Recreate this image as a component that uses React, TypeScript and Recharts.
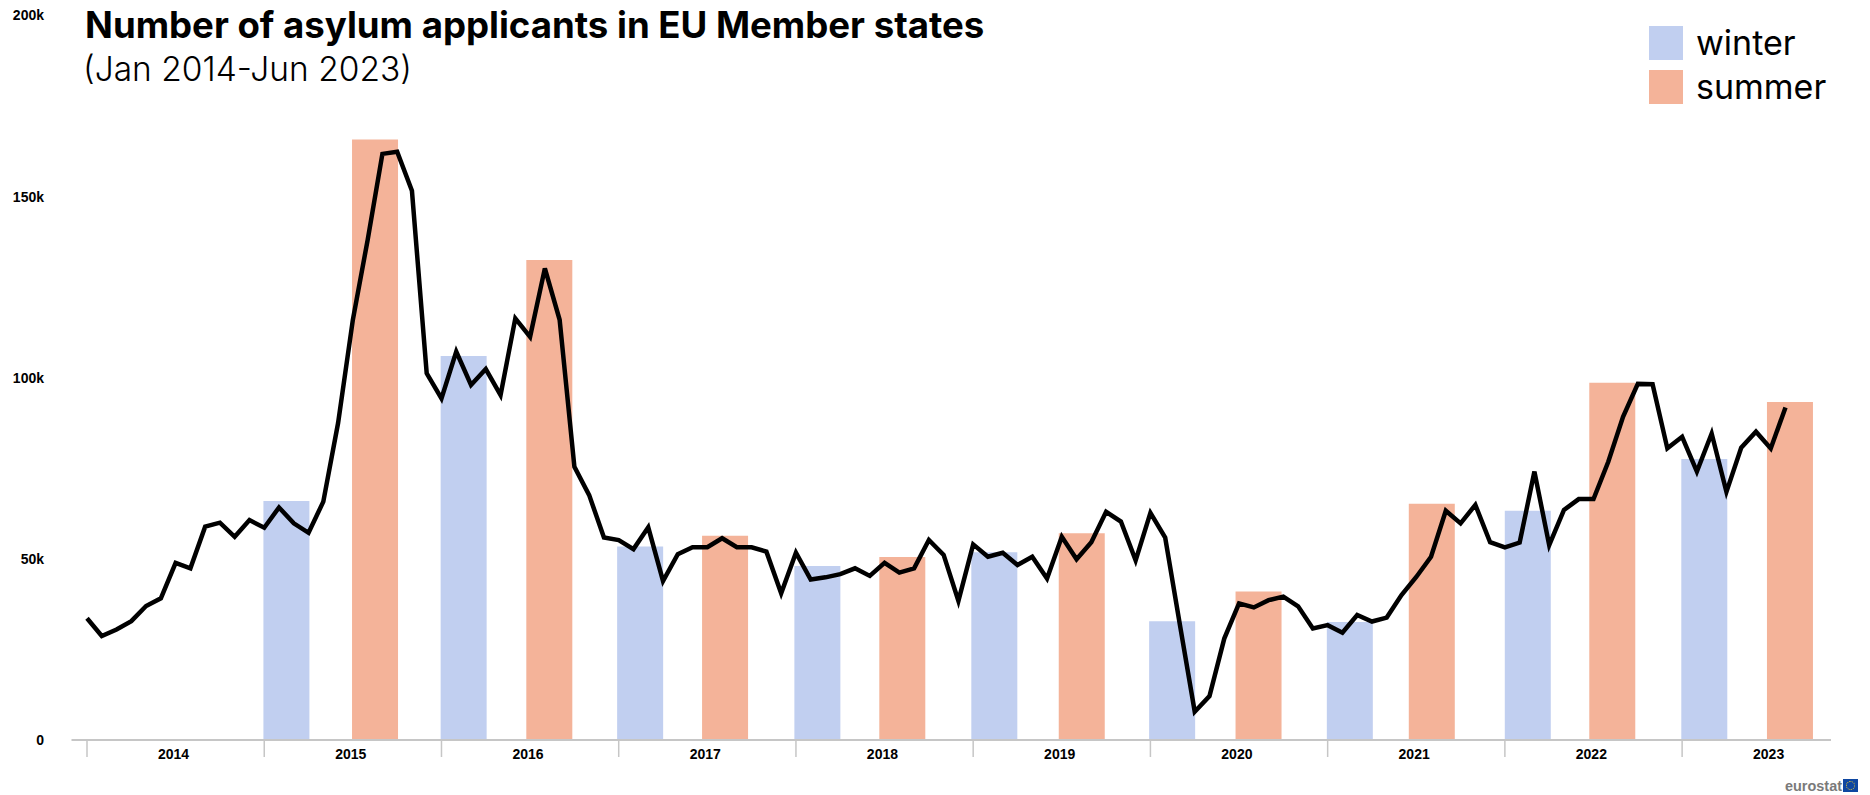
import { Bar, Cell, ComposedChart, Line, XAxis, YAxis } from "recharts";

// Monthly applicants in thousands, Jan 2014 onwards
const monthly = [
  33.6, 28.7, 30.5, 32.8, 37, 39.1, 48.9, 47.4, 58.9, 60, 56.1, 60.7,
  58.6, 64.2, 59.8, 57.2, 65.8, 87.5, 116, 138, 161.8, 162.4, 151.6, 101.2,
  94.3, 107.2, 98, 102.4, 95.2, 116.4, 111.3, 130.2, 116, 75.4, 67.6, 55.9,
  55.2, 52.7, 58.7, 43.9, 51.3, 53.2, 53.2, 55.7, 53.2, 53.2, 52, 40.5,
  51.7, 44.3, 44.9, 45.8, 47.4, 45.3, 48.9, 46.2, 47.4, 55.2, 51.1, 38.4,
  54, 50.6, 51.7, 48.3, 50.6, 44.6, 56.1, 49.9, 54.6, 63, 60.3, 49.6,
  62.7, 55.9, 31.7, 7.8, 12.1, 28, 37.7, 36.6, 38.6, 39.6, 36.9, 30.8,
  31.7, 29.6, 34.5, 32.7, 33.8, 40, 45, 50.6, 63.3, 59.8, 64.9, 54.6,
  53.2, 54.5, 74.1, 53.8, 63.5, 66.5, 66.5, 76.8, 89.2, 98.3, 98.2, 80.5,
  83.7, 74.1, 84.6, 68.5, 80.7, 85.1, 80.5, 91.8,
];

// Seasonal bars: centre on the month axis, height in thousands
const winterMonths = [13.5, 25.5, 37.45, 49.45, 61.43, 73.47, 85.5, 97.55, 109.5];
const winterValues = [66, 106, 53.4, 48, 51.8, 32.8, 32.6, 63.3, 77.6];
const summerMonths = [19.5, 31.3, 43.2, 55.2, 67.35, 79.32, 91.05, 103.27, 115.3];
const summerValues = [165.8, 132.5, 56.4, 50.5, 57.1, 41, 65.2, 98.6, 93.3];

const yearTicks = [0, 12, 24, 36, 48, 60, 72, 84, 96, 108];
const yearLabels = ["2014", "2015", "2016", "2017", "2018", "2019", "2020", "2021", "2022", "2023"];
const valueTicks = [0, 50, 100, 150, 200];

const WINTER = "#c1cff0";
const SUMMER = "#f4b399";
const AXIS = "#c6c6c6";
const TICK_FONT = "'Liberation Sans', Arial, sans-serif";
const HEAD_FONT = "Inter, sans-serif";
const MONTH_DOMAIN: [number, number] = [-1.05, 118.08];

const lineRows = monthly.map((total, month) => ({ month, total }));

const barRows = [
  ...winterMonths.map((month, i) => ({ month, value: winterValues[i], color: WINTER })),
  ...summerMonths.map((month, i) => ({ month, value: summerValues[i], color: SUMMER })),
].sort((a, b) => a.month - b.month);

const YearTick = ({ x, y, payload }: any) => (
  <text
    x={x + 86.5}
    y={y + 2}
    textAnchor="middle"
    fontFamily={TICK_FONT}
    fontWeight={700}
    fontSize={14}
    fill="#000"
  >
    {yearLabels[yearTicks.indexOf(payload.value)]}
  </text>
);

const LegendItem = ({ top, color, label }: { top: number; color: string; label: string }) => (
  <>
    <div style={{ position: "absolute", left: 1649, top, width: 34, height: 34, background: color }} />
    <div
      style={{
        position: "absolute",
        left: 1696,
        top: top - 3,
        fontFamily: HEAD_FONT,
        fontSize: 34,
        lineHeight: "40px",
        color: "#000",
      }}
    >
      {label}
    </div>
  </>
);

export default function App() {
  return (
    <div style={{ position: "fixed", left: 0, top: 0, width: 1870, height: 795, background: "#fff" }}>
      <ComposedChart
        width={1870}
        height={795}
        data={barRows}
        margin={{ top: 15.5, right: 39, bottom: 0, left: 0 }}
      >
        <XAxis
          xAxisId="months"
          dataKey="month"
          type="number"
          domain={MONTH_DOMAIN}
          ticks={yearTicks}
          height={55}
          tick={<YearTick />}
          tickSize={17}
          tickMargin={0}
          interval={0}
          axisLine={{ stroke: AXIS, strokeWidth: 2 }}
          tickLine={{ stroke: AXIS, strokeWidth: 1.5 }}
        />
        <XAxis xAxisId="seasons" dataKey="month" type="number" domain={MONTH_DOMAIN} height={0} hide />
        <YAxis
          type="number"
          domain={[0, 200]}
          ticks={valueTicks}
          width={71.5}
          axisLine={false}
          tickLine={false}
          tickSize={0}
          tickMargin={27.5}
          interval={0}
          tick={{ fontFamily: TICK_FONT, fontWeight: 700, fontSize: 14, fill: "#000" }}
          tickFormatter={(v: number) => (v === 0 ? "0" : `${v}k`)}
        />
        <Bar xAxisId="seasons" dataKey="value" barSize={46} isAnimationActive={false}>
          {barRows.map((row) => (
            <Cell key={row.month} fill={row.color} />
          ))}
        </Bar>
        <Line
          data={lineRows}
          xAxisId="months"
          dataKey="total"
          type="linear"
          stroke="#000"
          strokeWidth={4.5}
          dot={false}
          isAnimationActive={false}
        />
      </ComposedChart>

      <div
        style={{
          position: "absolute",
          left: 85,
          top: 4,
          fontFamily: HEAD_FONT,
          fontWeight: 700,
          fontSize: 36.6,
          lineHeight: "42px",
          color: "#000",
          whiteSpace: "nowrap",
        }}
      >
        Number of asylum applicants in EU Member states
      </div>
      <div
        style={{
          position: "absolute",
          left: 83,
          top: 48,
          fontFamily: HEAD_FONT,
          fontWeight: 300,
          fontSize: 33.5,
          lineHeight: "42px",
          color: "#000",
          whiteSpace: "nowrap",
        }}
      >
        (Jan 2014-Jun 2023)
      </div>

      <LegendItem top={26} color={WINTER} label="winter" />
      <LegendItem top={70} color={SUMMER} label="summer" />

      {/* eurostat logo */}
      <svg style={{ position: "absolute", left: 1780, top: 775 }} width={64} height={20}>
        <text
          x={5}
          y={16}
          textLength={57}
          lengthAdjust="spacingAndGlyphs"
          fontFamily={TICK_FONT}
          fontWeight={700}
          fontSize={15}
          fill="#7a7a7a"
        >
          eurostat
        </text>
      </svg>
      <div style={{ position: "absolute", left: 1843, top: 779, width: 15, height: 13, background: "#0e47a1" }}>
        <div
          style={{
            position: "absolute",
            left: 3,
            top: 2,
            width: 7,
            height: 7,
            borderRadius: "50%",
            border: "1px dotted #e6c832",
          }}
        />
      </div>
    </div>
  );
}
